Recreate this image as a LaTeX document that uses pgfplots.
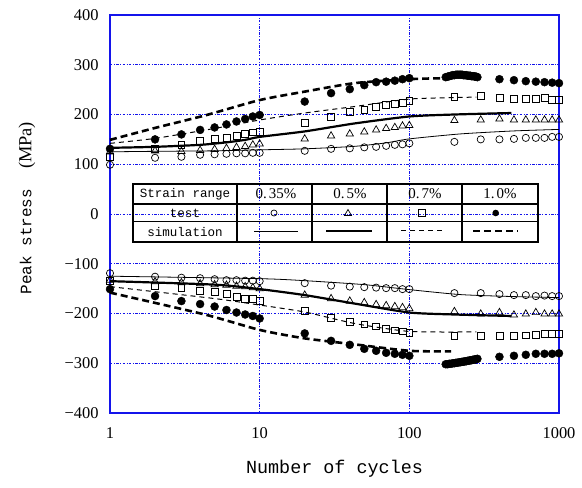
\documentclass[border=0pt]{standalone}
\usepackage{fontspec}
\setmainfont{Liberation Serif}
\newfontfamily\monofont{Liberation Mono}
\usepackage{pgfplots}
\pgfplotsset{compat=1.18}
\definecolor{gridblue}{RGB}{20,20,235}
\begin{document}
\begin{tikzpicture}
\path[use as bounding box] (-110bp,-75bp) rectangle (472bp,413bp);
\begin{axis}[
  at={(0,0)}, anchor=south west,
  scale only axis, width=449bp, height=398bp,
  xmode=log, xmin=1, xmax=1000, ymin=-400, ymax=400,
  xtick={1,10,100,1000}, xticklabels={1,10,100,1000},
  ytick={-400,-300,-200,-100,0,100,200,300,400},
  yticklabels={−400,−300,−200,−100,0,100,200,300,400},
  minor xtick={}, major tick length=0pt, minor tick length=0pt,
  grid=major,
  major grid style={gridblue, line width=0.7bp, dash pattern=on 2.5bp off 1.5bp on 0.8bp off 1.5bp},
  axis line style={gridblue, line width=1.4bp},
  tick label style={font=\fontsize{16.5}{16.5}\selectfont},
  xticklabel style={yshift=-11bp},
  yticklabel style={xshift=-8bp},
  xlabel={{\monofont Number of cycles}},
  xlabel style={font=\fontsize{18.5}{18.5}\selectfont, at={(axis description cs:0.5,-0.1407)}, anchor=center},
  ylabel={{\monofont\fontsize{16}{16}\selectfont Peak stress}\hspace{20bp}{\fontsize{18.5}{18.5}\selectfont(MPa)}},
  ylabel style={at={(axis description cs:-0.1849,0.515)}, anchor=center},
  clip=false,
]
% ---------- simulations (upper) ----------
\addplot[black, line width=0.8bp, smooth, tension=0.4] coordinates {(1,125)(2,126)(5,127)(10,129)(20,131)(43,136)(70,143)(100,151)(220,161)(500,167)(1000,170)};
\addplot[black, line width=2.2bp, smooth, tension=0.4] coordinates {(1,133)(2,135)(4,139)(6,144)(8,149)(10,155)(20,166)(43,182)(100,196)(200,200)(480,203)};
\addplot[black, line width=1bp, dash pattern=on 5bp off 4bp, smooth, tension=0.4] coordinates {(1,142)(2,152)(5,172)(10,189)(20,203)(43,216)(100,231)(200,234)(280,235)};
\addplot[black, line width=2.6bp, dash pattern=on 7bp off 4bp, smooth, tension=0.4] coordinates {(1,149)(2,173)(4.3,198)(10,229)(20,246)(43,263)(100,271)(175,273)};
% ---------- simulations (lower) ----------
\addplot[black, line width=0.8bp, smooth, tension=0.4] coordinates {(1,-125)(10,-130)(20,-134)(50,-142)(100,-152)(220,-162)(500,-166)(1000,-168)};
\addplot[black, line width=2.2bp, smooth, tension=0.4] coordinates {(1,-135)(5,-142)(10,-151)(20,-163)(43,-180)(100,-198)(200,-202)(480,-205)};
\addplot[black, line width=1bp, dash pattern=on 5bp off 4bp, smooth, tension=0.4] coordinates {(1,-146)(5,-170)(10,-183)(20,-197)(43,-220)(100,-236)(280,-237)};
\addplot[black, line width=2.6bp, dash pattern=on 7bp off 4bp, smooth, tension=0.4] coordinates {(1,-158)(4.3,-202)(10,-233)(20,-250)(43,-262)(100,-275)(190,-276)};
% ---------- tests (upper) ----------
\addplot[only marks, mark=o, mark size=3.6bp, mark options={black, line width=0.7bp}] coordinates {(1,99)(2,113)(3,115)(4,119)(5,120)(6,121)(7,122)(8,122)(9,123)(10,123)(20,127)(30,131)(40,132)(50,134)(60,135)(70,137)(80,139)(90,140)(100,142)(200,145)(300,150)(400,150)(500,151)(600,153)(700,153)(800,153)(900,155)(1000,155)};
\addplot[only marks, mark=triangle, mark size=4.2bp, mark options={black, line width=0.7bp}] coordinates {(1,125)(2,127)(3,126)(4,128)(5,130)(6,132)(7,134)(8,136)(9,139)(10,141)(20,151)(30,157)(40,161)(50,165)(60,169)(70,172)(80,174)(90,177)(100,178)(200,188)(300,189)(400,191)(500,189)(600,189)(700,189)(800,189)(900,189)(1000,189)};
\addplot[only marks, mark=square, mark size=3.4bp, mark options={black, line width=0.7bp}] coordinates {(1,115)(2,131)(3,139)(4,147)(5,151)(6,153)(7,157)(8,161)(9,164)(10,165)(20,184)(30,196)(40,206)(50,210)(60,216)(70,220)(80,222)(90,224)(100,227)(200,235)(300,237)(400,234)(500,232)(600,232)(700,231)(800,233)(900,230)(1000,229)};
\addplot[only marks, mark=*, mark size=4bp, mark options={black}] coordinates {(1,131)(2,150)(3,160)(4,169)(5,174)(6,180)(7,186)(8,191)(9,196)(10,199)(20,226)(30,243)(40,251)(50,259)(60,265)(70,266)(80,268)(90,271)(100,273)(175,275)(180,276)(185,277)(190,278)(195,279)(200,279)(205,280)(210,280)(215,280)(220,280)(225,280)(230,279)(235,279)(240,279)(245,278)(250,278)(255,278)(260,277)(265,277)(270,277)(275,276)(280,276)(285,275)(400,271)(500,269)(600,267)(700,266)(800,265)(900,264)(1000,263)};
% ---------- tests (lower) ----------
\addplot[only marks, mark=o, mark size=3.6bp, mark options={black, line width=0.7bp}] coordinates {(1,-119)(2,-126)(3,-128)(4,-129)(5,-131)(6,-133)(7,-133)(8,-134)(9,-134)(10,-135)(20,-139)(30,-144)(40,-146)(50,-147)(60,-148)(70,-149)(80,-149)(90,-151)(100,-151)(200,-159)(300,-159)(400,-161)(500,-163)(600,-163)(700,-165)(800,-164)(900,-165)(1000,-165)};
\addplot[only marks, mark=triangle, mark size=4.2bp, mark options={black, line width=0.7bp}] coordinates {(1,-133)(2,-136)(3,-138)(4,-140)(5,-142)(6,-143)(7,-145)(8,-146)(9,-148)(10,-150)(20,-163)(30,-170)(40,-175)(50,-178)(60,-182)(70,-184)(80,-186)(90,-188)(100,-190)(200,-196)(300,-201)(400,-198)(500,-203)(600,-201)(700,-198)(800,-201)(900,-201)(1000,-201)};
\addplot[only marks, mark=square, mark size=3.4bp, mark options={black, line width=0.7bp}] coordinates {(1,-135)(2,-144)(3,-149)(4,-155)(5,-157)(6,-161)(7,-166)(8,-170)(9,-171)(10,-174)(20,-195)(30,-208)(40,-216)(50,-222)(60,-226)(70,-231)(80,-234)(90,-236)(100,-239)(200,-245)(300,-245)(400,-245)(500,-245)(600,-244)(700,-243)(800,-241)(900,-241)(1000,-241)};
\addplot[only marks, mark=*, mark size=4bp, mark options={black}] coordinates {(1,-151)(2,-165)(3,-175)(4,-181)(5,-186)(6,-193)(7,-198)(8,-202)(9,-205)(10,-210)(20,-240)(30,-255)(40,-263)(50,-271)(60,-275)(70,-279)(80,-281)(90,-283)(100,-285)(175,-302)(180,-302)(185,-301)(190,-301)(195,-300)(200,-300)(205,-299)(210,-299)(215,-298)(220,-298)(225,-297)(230,-297)(235,-296)(240,-296)(245,-295)(250,-295)(255,-294)(260,-294)(265,-293)(270,-293)(275,-292)(280,-292)(285,-291)(400,-287)(500,-285)(600,-283)(700,-281)(800,-281)(900,-281)(1000,-280)};
\end{axis}
% ---------- legend table ----------
\begin{scope}[x=1bp, y=1bp]
\draw[black, line width=1.6bp] (23,171) rectangle (428,229);
\draw[black, line width=1.6bp] (23,209) -- (428,209);
\draw[black, line width=1bp] (23,191) -- (428,191);
\foreach \xx in {127,202,277,352} \draw[black, line width=1.6bp] (\xx,171) -- (\xx,229);
\begin{scope}[font=\fontsize{12.6}{12.6}\selectfont]
\node at (75,219) {\monofont Strain range};
\node at (75,200) {\monofont test};
\node at (75,181) {\monofont simulation};
\end{scope}
\begin{scope}[font=\fontsize{15}{15}\selectfont]
\node at (166,219) {0.\kern2bp 35\%};
\node at (240,219) {0.\kern2bp 5\%};
\node at (315,219) {0.\kern2bp 7\%};
\node at (390,219) {1.\kern2bp 0\%};
\end{scope}
\draw[black, line width=0.7bp] (164,200) circle (3bp);
\draw[black, line width=0.7bp] (238,203.5) -- (234.5,197.5) -- (241.5,197.5) -- cycle;
\draw[black, line width=0.7bp] (308.5,197) rectangle (315.5,204);
\fill[black] (385.7,200) circle (3.3bp);
\draw[black, line width=0.8bp] (144,182) -- (188,182);
\draw[black, line width=2.2bp] (216,182) -- (262,182);
\draw[black, line width=1bp, dash pattern=on 5bp off 4bp] (291,182) -- (334,182);
\draw[black, line width=2.6bp, dash pattern=on 7bp off 4bp] (363,182) -- (408,182);
\end{scope}
\end{tikzpicture}
\end{document}
